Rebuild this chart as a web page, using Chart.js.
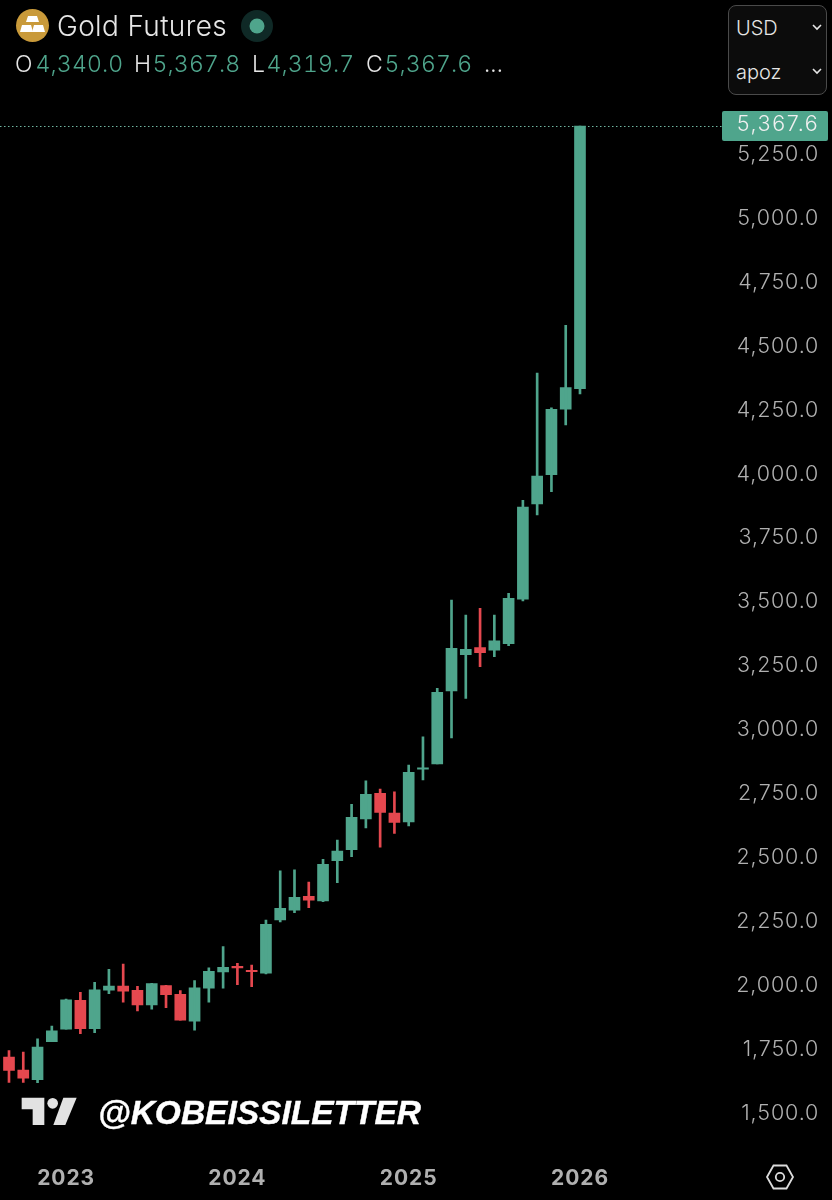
<!DOCTYPE html>
<html><head><meta charset="utf-8">
<script src="https://cdn.jsdelivr.net/npm/chart.js@4"></script>
<style>
html,body{margin:0;padding:0;background:#000;width:832px;height:1200px;overflow:hidden}
#wrap{position:relative;width:832px;height:1200px;background:#000}
canvas{position:absolute;left:0;top:0}
.t{position:absolute;white-space:nowrap;font-family:Inter,sans-serif;line-height:1}
.w{color:#e6e6e6}.g{color:#4fa58c}
.r{font-size:23px;font-weight:300;top:53px;letter-spacing:.15px;font-variant-numeric:tabular-nums}
svg{position:absolute;overflow:visible}
</style></head><body>
<div id="wrap">
<canvas id="c" width="832" height="1200"></canvas>
<svg style="left:0;top:0" width="70" height="50">
 <circle cx="32.5" cy="25.5" r="16.5" fill="#c99a3a"/>
 <polygon points="28,16 37,16 39,22 26,22" fill="#fff"/>
 <polygon points="22,25 31,25 33,32 20,32" fill="#fff"/>
 <polygon points="34,25 43,25 45,32 32,32" fill="#fff"/>
</svg>
<div class="t w" style="left:57px;top:12px;font-size:28px;font-weight:300;letter-spacing:.35px">Gold Futures</div>
<svg style="left:240px;top:9px" width="34" height="34">
 <circle cx="17" cy="17" r="16" fill="#0f2926"/><circle cx="17" cy="17" r="7.5" fill="#4fa58c"/>
</svg>
<div class="t w r" style="left:15px">O</div>
<div class="t g r" style="left:35.5px">4,340.0</div>
<div class="t w r" style="left:134px">H</div>
<div class="t g r" style="left:152.5px">5,367.8</div>
<div class="t w r" style="left:252px">L</div>
<div class="t g r" style="left:266.5px">4,319.7</div>
<div class="t w r" style="left:366px">C</div>
<div class="t g r" style="left:384.5px">5,367.6</div>
<div class="t w r" style="left:484px">...</div>
<div style="position:absolute;left:728px;top:5px;width:97px;height:88px;border:1.5px solid #4a4a4a;border-radius:8px;background:#0c0c0c"></div>
<div class="t w" style="left:736px;top:18px;font-size:20px;font-weight:300">USD</div>
<div class="t w" style="left:736px;top:62px;font-size:20px;font-weight:300">apoz</div>
<svg style="left:810px;top:22px" width="14" height="60">
 <polyline points="3,3 7,7 11,3" fill="none" stroke="#e6e6e6" stroke-width="1.6"/>
 <polyline points="3,47 7,51 11,47" fill="none" stroke="#e6e6e6" stroke-width="1.6"/>
</svg>
<svg style="left:0;top:940px" width="280" height="260" viewBox="0 0 840 780">
 <polygon points="65,473 133,473 133,555 98,555 98,508 65,508" fill="#e2e2e2"/>
 <circle cx="158" cy="490" r="16" fill="#e2e2e2"/>
 <polygon points="190,473 230,473 196,555 160,555" fill="#e2e2e2"/>
</svg>
<div class="t" style="left:98px;top:1096px;font-family:'Liberation Sans',sans-serif;font-weight:700;font-style:italic;font-size:33.5px;color:#fff;-webkit-text-stroke:.4px #fff">@KOBEISSILETTER</div>
<svg style="left:760px;top:1157px" width="40" height="40">
 <polygon points="7,20 13.5,8.5 26.5,8.5 33,20 26.5,31.5 13.5,31.5" fill="none" stroke="#dcdcdc" stroke-width="1.8"/>
 <circle cx="20" cy="20" r="4.2" fill="none" stroke="#dcdcdc" stroke-width="1.8"/>
</svg>
</div>
<script>
const categories=["2022-09","2022-10","2022-11","2022-12","2023-01","2023-02","2023-03","2023-04","2023-05","2023-06","2023-07","2023-08","2023-09","2023-10","2023-11","2023-12","2024-01","2024-02","2024-03","2024-04","2024-05","2024-06","2024-07","2024-08","2024-09","2024-10","2024-11","2024-12","2025-01","2025-02","2025-03","2025-04","2025-05","2025-06","2025-07","2025-08","2025-09","2025-10","2025-11","2025-12","2026-01","2026-02","2026-03","2026-04","2026-05","2026-06","2026-07","2026-08","2026-09","2026-10"];
const opens =[1725,1674,1636,1785,1834,1947,1836,1987,2003,1986,1929,2005,1970,1865,1994,2058,2080,2064,2053,2261,2300,2354,2336,2493,2536,2657,2757,2679,2645,2851,2872,3157,3299,3327,3317,3342,3516,3889,4003,4260,4340];
const highs =[1750,1744,1796,1846,1952,1978,2017,2068,2089,2002,2013,2006,1985,2024,2074,2157,2092,2085,2261,2454,2457,2410,2499,2574,2714,2806,2773,2763,2867,2978,3168,3513,3454,3481,3454,3539,3903,4401,4265,4588,5367.8];
const lows  =[1626,1626,1625,1785,1834,1816,1820,1973,1940,1905,1912,1918,1869,1830,1940,1994,2008,2000,2050,2254,2290,2309,2333,2407,2509,2621,2546,2600,2629,2809,2872,2974,3128,3252,3291,3334,3510,3846,3937,4198,4319.7];
const closes=[1673,1642,1764,1828,1949,1836,1988,2003,1983,1929,2012,1969,1869,1996,2060,2076,2074,2059,2244,2307,2350,2339,2479,2531,2663,2753,2682,2643,2839,2857,3152,3324,3320,3307,3353,3520,3877,3998,4259,4344,5367.6];
const yTicks=[1500,1750,2000,2250,2500,2750,3000,3250,3500,3750,4000,4250,4500,4750,5000,5250];
const UP='#4fa58c', DOWN='#e5484f';
const lastClose=closes[closes.length-1];
const colors=closes.map((c,i)=>c>=opens[i]?UP:DOWN);
const fmt=v=>v.toLocaleString('en-US',{minimumFractionDigits:1,maximumFractionDigits:1});
const lastPrice={id:'lastPrice',
 beforeDraw(ch){ch.ctx.letterSpacing='0.9px'},
 beforeDatasetsDraw(ch){const y=ch.scales.y.getPixelForValue(lastClose),x=ch.ctx;
  x.save();x.strokeStyle='#6fb5a0';x.lineWidth=1;x.setLineDash([1.5,2.5]);x.beginPath();x.moveTo(0,y+.5);x.lineTo(723,y+.5);x.stroke();x.restore();},
 afterDraw(ch){const y=ch.scales.y.getPixelForValue(lastClose),x=ch.ctx;
  x.save();x.fillStyle=UP;x.beginPath();x.roundRect(722,y-15,106,30,2);x.fill();
  x.letterSpacing='1.6px';
  x.fillStyle='#f0f0f0';x.font='300 21.5px Inter';x.textAlign='center';x.textBaseline='middle';
  x.fillText(fmt(lastClose),778,y-1.5);x.restore();}};
Chart.defaults.font.family='Inter';
new Chart(document.getElementById('c'),{
 type:'bar',
 data:{labels:categories,datasets:[
  {label:'Wick',data:highs.map((h,i)=>[lows[i],h]),backgroundColor:colors,barThickness:2,grouped:false},
  {label:'Body',data:opens.map((o,i)=>[o,closes[i]]),backgroundColor:colors,barThickness:11,grouped:false}
 ]},
 plugins:[lastPrice],
 options:{responsive:false,animation:false,devicePixelRatio:1,
  layout:{padding:{left:1.86,top:96,right:12.7,bottom:0}},
  plugins:{legend:{display:false},tooltip:{enabled:false}},
  scales:{
   x:{offset:true,grid:{display:false,drawTicks:false},border:{display:false},
    afterFit(s){s.height=50;s.paddingLeft=0;s.paddingRight=0},
    ticks:{autoSkip:false,maxRotation:0,minRotation:0,padding:16,color:'#b0b0b0',font:{size:21,weight:'700',family:'Inter'},
     callback(v){const l=this.getLabelForValue(v);return l.endsWith('-01')?l.slice(0,4):''}}},
   y:{position:'right',min:1361.3,max:5485,grid:{display:false,drawTicks:false},border:{display:false},
    afterFit(s){s.width=103.7},
    afterBuildTicks(s){s.ticks=yTicks.map(v=>({value:v}))},
    ticks:{padding:16,crossAlign:'far',labelOffset:-1.5,color:'#b0b0b0',font:{size:21.5,weight:'300',family:'Inter'},callback:v=>fmt(v)}}
  }}});
</script>
</body></html>
